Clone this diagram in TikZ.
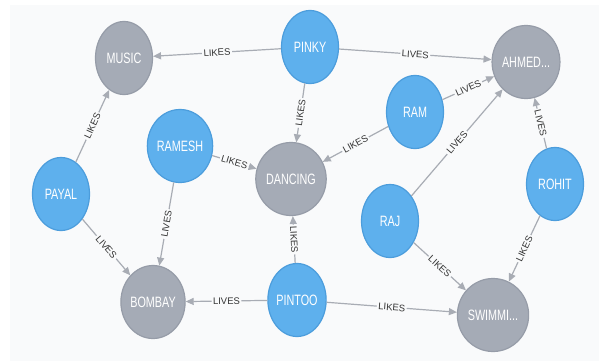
\documentclass[tikz,border=0pt]{standalone}
\usepackage{fontspec}
\newfontfamily\nodefont[FakeStretch=0.72]{Liberation Sans}
\newfontfamily\edgefont{Liberation Sans}
\definecolor{canvas}{RGB}{249, 250, 251}
\definecolor{personblue}{RGB}{94, 176, 237}
\definecolor{personedge}{RGB}{76, 157, 220}
\definecolor{thinggrey}{RGB}{165, 171, 182}
\definecolor{thingedge}{RGB}{150, 156, 168}
\definecolor{relgrey}{RGB}{168, 172, 180}
\definecolor{reltext}{RGB}{51, 51, 51}
\usetikzlibrary{shapes.geometric, arrows.meta}

\begin{document}
\begin{tikzpicture}[
    x=1pt, y=-1pt,
    person/.style={ellipse, draw=personedge, fill=personblue, line width=1.2pt,
          minimum width=57pt, minimum height=73pt, inner sep=0pt,
          text=white, font=\nodefont\fontsize{15}{15}\selectfont},
    thing/.style={ellipse, draw=thingedge, fill=thinggrey, line width=1.2pt,
          minimum width=57pt, minimum height=73pt, inner sep=0pt,
          text=white, font=\nodefont\fontsize{15}{15}\selectfont},
    arr/.style={-{Triangle[length=8pt, width=7pt]}, line width=1.2pt, relgrey},
    lbl/.style={midway, sloped, fill=canvas, inner sep=1.5pt, text=reltext,
          font=\edgefont\fontsize{9.5}{9.5}\selectfont}
  ]
    \useasboundingbox (0,0) rectangle (599,362);
    \fill[canvas] (10,5) rectangle (599,361);

    % places and hobbies
    \node[thing] (music) at (124,58) {MUSIC};
    \node[thing] (ahmed) at (526,62) {AHMED...};
    \node[thing] (dancing) at (291,179) {DANCING};
    \node[thing] (bombay) at (153,302) {BOMBAY};
    \node[thing] (swimming) at (493,315) {SWIMMI...};

    % people
    \node[person] (pinky) at (310,47) {PINKY};
    \node[person] (ram) at (415,112) {RAM};
    \node[person] (ramesh) at (180,146) {RAMESH};
    \node[person] (payal) at (61,194) {PAYAL};
    \node[person] (rohit) at (555,184) {ROHIT};
    \node[person] (raj) at (390,221) {RAJ};
    \node[person] (pintoo) at (297,300) {PINTOO};

    \draw[arr] (pinky) -- node[lbl]{LIKES} (music);
    \draw[arr] (pinky) -- node[lbl]{LIVES} (ahmed);
    \draw[arr] (pinky) -- node[lbl]{LIKES} (dancing);
    \draw[arr] (payal) -- node[lbl]{LIKES} (music);
    \draw[arr] (payal) -- node[lbl]{LIVES} (bombay);
    \draw[arr] (ramesh) -- node[lbl]{LIKES} (dancing);
    \draw[arr] (ramesh) -- node[lbl]{LIVES} (bombay);
    \draw[arr] (ram) -- node[lbl]{LIVES} (ahmed);
    \draw[arr] (ram) -- node[lbl]{LIKES} (dancing);
    \draw[arr] (raj) -- node[lbl]{LIVES} (ahmed);
    \draw[arr] (raj) -- node[lbl]{LIKES} (swimming);
    \draw[arr] (rohit) -- node[lbl]{LIVES} (ahmed);
    \draw[arr] (rohit) -- node[lbl]{LIKES} (swimming);
    \draw[arr] (pintoo) -- node[lbl]{LIVES} (bombay);
    \draw[arr] (pintoo) -- node[lbl]{LIKES} (dancing);
    \draw[arr] (pintoo) -- node[lbl]{LIKES} (swimming);
  \end{tikzpicture}
\end{document}
